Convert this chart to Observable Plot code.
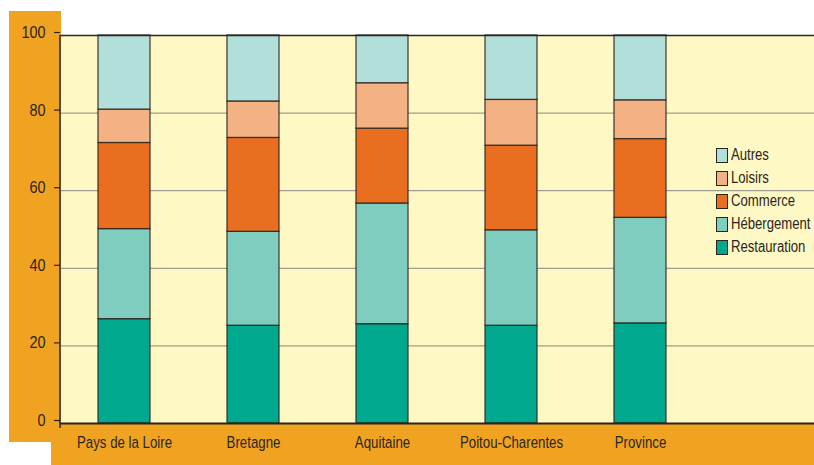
<!DOCTYPE html>
<html>
<head>
<meta charset="utf-8">
<script src="https://cdn.jsdelivr.net/npm/d3@7"></script>
<script src="https://cdn.jsdelivr.net/npm/@observablehq/plot@0.6"></script>
<style>
  html, body { margin: 0; padding: 0; background: #ffffff; }
  #wrap { position: relative; width: 814px; height: 465px; overflow: hidden;
          font-family: "Liberation Sans", Arial, sans-serif; color: #2b2520; }
  .deco { position: absolute; background: #f0a321; }
  #chart { position: absolute; left: 0; top: 0; }
  #legend { position: absolute; left: 716px; top: 147px; }
  .item { position: absolute; left: 0; height: 16px; display: flex; align-items: center; white-space: nowrap; font-size: 16px; }
  .sw { width: 12px; height: 15px; border: 1.3px solid #2b2520; box-sizing: border-box; margin-right: 3px; flex: none; }
  .lt { display: inline-block; transform: scaleX(0.82); transform-origin: left center; }
</style>
</head>
<body>
<div id="wrap">
  <div class="deco" style="left:9px; top:11px; width:52px; height:431px;"></div>
  <div class="deco" style="left:51px; top:423px; width:763px; height:42px;"></div>
  <div id="chart"></div>
  <div id="legend"></div>
</div>
<script>
const regions = ["Pays de la Loire", "Bretagne", "Aquitaine", "Poitou-Charentes", "Province"];
const sectors = ["Restauration", "Hébergement", "Commerce", "Loisirs", "Autres"];
const restauration = [26.9, 25.2, 25.6, 25.2, 25.8];
const hebergement  = [23.2, 24.2, 31.1, 24.6, 27.2];
const commerce     = [22.2, 24.2, 19.3, 21.8, 20.3];
const loisirs      = [8.6, 9.4, 11.7, 11.8, 10.0];
const autres       = [19.1, 17.0, 12.3, 16.6, 16.7];
const colors = ["#00a88e", "#7fcdbf", "#e96e20", "#f4b284", "#b3dfda"];
const yTicks = [0, 20, 40, 60, 80, 100];
const gridTicks = [20, 40, 60, 80];

const series = [restauration, hebergement, commerce, loisirs, autres];
const rows = [];
regions.forEach((r, i) => sectors.forEach((s, j) => rows.push({region: r, sector: s, value: series[j][i]})));

const ink = "#2b2520";

function leftLine(index, scales, values, dims) {
  const l = d3.create("svg:line")
    .attr("x1", dims.marginLeft).attr("x2", dims.marginLeft)
    .attr("y1", dims.marginTop).attr("y2", dims.height - dims.marginBottom + 5)
    .attr("stroke", ink).attr("stroke-width", 1.5);
  return l.node();
}

const chart = Plot.plot({
  width: 814,
  height: 465,
  marginLeft: 60,
  marginRight: 0,
  marginTop: 35,
  marginBottom: 42,
  style: {background: "transparent", fontFamily: "'Liberation Sans', Arial, sans-serif", color: ink},
  x: {type: "band", domain: regions, range: [58, 705.5], paddingInner: 0.6, paddingOuter: 0.3, label: null},
  y: {domain: [0, 100], label: null},
  color: {domain: sectors, range: colors},
  marks: [
    Plot.frame({fill: "#fef8c4", stroke: "none"}),
    Plot.gridY(gridTicks, {stroke: "#a09d92", strokeOpacity: 1, strokeWidth: 1.2}),
    Plot.barY(rows, {x: "region", y: "value", fill: "sector", z: "sector", stroke: ink, strokeWidth: 1.3, strokeOpacity: 0.85}),
    Plot.ruleY([0], {stroke: ink, strokeWidth: 2}),
    Plot.ruleY([100], {stroke: ink, strokeWidth: 1.5}),
    leftLine,
    Plot.axisY(yTicks, {tickSize: 6, tickPadding: 9, fontSize: 17, dy: -3, stroke: ink, fill: ink, strokeWidth: 1.2, label: null, className: "yax"}),
    Plot.axisX({tickSize: 0, tickPadding: 12, fontSize: 17, fill: ink, label: null, className: "xax"})
  ]
});
// condense the label glyphs horizontally, like the reference's narrow typeface
chart.querySelectorAll("text").forEach(t => {
  const tr = t.getAttribute("transform");
  const isX = t.closest(".xax") !== null;
  if (tr) t.setAttribute("transform", tr + (isX ? " scale(0.78,1)" : " scale(0.85,1)"));
});
document.getElementById("chart").appendChild(chart);

const legend = document.getElementById("legend");
const order = [4, 3, 2, 1, 0];
order.forEach((j, k) => {
  const d = document.createElement("div");
  d.className = "item";
  d.style.top = (k * 23) + "px";
  d.innerHTML = `<span class="sw" style="background:${colors[j]}"></span><span class="lt">${sectors[j]}</span>`;
  legend.appendChild(d);
});
</script>
</body>
</html>
